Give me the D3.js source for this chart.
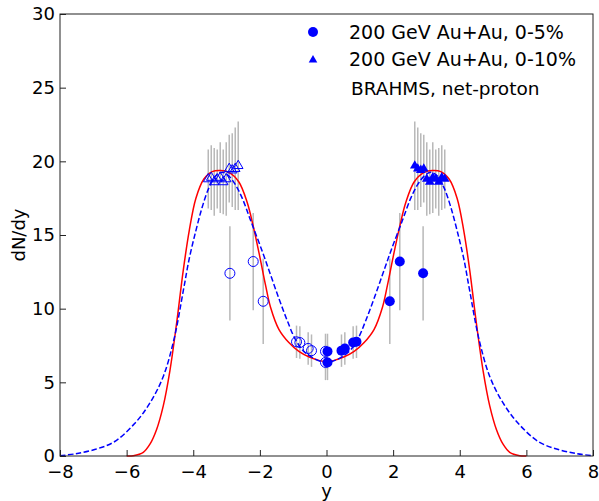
<!DOCTYPE html>
<html>
<head>
<meta charset="utf-8">
<script src="https://cdn.jsdelivr.net/npm/d3@7"></script>
<style>
  body { margin: 0; background: #fff; }
  text { font-family: "DejaVu Sans", sans-serif; fill: #000; }
</style>
</head>
<body>
<svg id="chart" width="599" height="501"></svg>
<script>
// BRAHMS net-proton, 0-5% (filled circles, y > 0) and reflected (open circles)
const circX = [0.03, 0.03, 0.45, 0.55, 0.8, 0.9, 1.9, 2.2, 2.9];
const circY = [7.1, 6.35, 7.15, 7.3, 7.7, 7.75, 10.5, 13.2, 12.4];
const circErr = [1.2, 1.2, 1.1, 1.1, 1.1, 1.1, 2.9, 3.3, 3.2];
const circReflX = [-0.03, -0.03, -0.45, -0.55, -0.8, -0.9, -1.9, -2.2, -2.9];

// 0-10% (filled triangles, y > 0) and reflected (open triangles)
const triX = [2.65, 2.74, 2.83, 2.92, 3.01, 3.10, 3.19, 3.28, 3.37, 3.46, 3.55];
const triY = [19.7, 19.5, 19.4, 19.5, 18.8, 18.6, 18.9, 18.8, 18.6, 18.9, 18.8];
const triErr = [3.0, 2.8, 2.5, 2.3, 2.5, 2.2, 2.4, 2.0, 2.3, 2.2, 2.0];
const triReflX = [-2.65, -2.74, -2.83, -2.92, -3.01, -3.10, -3.19, -3.28, -3.37, -3.46, -3.55];

// model curves
const redX = [-6, -5.8, -5.5, -5.3, -5.1, -4.9, -4.7, -4.5, -4.3, -4.12, -3.92, -3.68, -3.43, -3.18, -2.93, -2.63, -2.38, -2.2, -2.0, -1.83, -1.68, -1.43, -1.13, -0.83, -0.5, 0,
              0.5, 0.83, 1.13, 1.43, 1.68, 1.83, 2.0, 2.2, 2.38, 2.63, 2.93, 3.18, 3.43, 3.68, 3.92, 4.12, 4.3, 4.5, 4.7, 4.9, 5.1, 5.3, 5.5, 5.8, 6];
const redY = [0, 0.02, 0.25, 0.8, 1.8, 3.4, 5.8, 9.0, 12.6, 15.3, 17.5, 18.8, 19.3, 19.37, 19.25, 18.6, 17.2, 15.6, 13.5, 11.6, 10.1, 8.6, 7.7, 7.1, 6.7, 6.4,
              6.7, 7.1, 7.7, 8.6, 10.1, 11.6, 13.5, 15.6, 17.2, 18.6, 19.25, 19.37, 19.3, 18.8, 17.5, 15.3, 12.6, 9.0, 5.8, 3.4, 1.8, 0.8, 0.25, 0.02, 0];

const blueX = [-8, -7.53, -6.96, -6.38, -5.76, -5.3, -4.9, -4.57, -4.3, -4.12, -3.92, -3.73, -3.53, -3.33, -3.13, -2.93, -2.73, -2.53, -2.28, -1.93, -1.68, -1.43, -1.18, -0.93, -0.63, 0,
               0.63, 0.93, 1.18, 1.43, 1.68, 1.93, 2.28, 2.53, 2.73, 2.93, 3.13, 3.33, 3.53, 3.73, 3.92, 4.12, 4.3, 4.57, 4.9, 5.3, 5.76, 6.38, 6.96, 7.53, 8];
const blueY = [0.02, 0.15, 0.44, 0.95, 2.2, 3.6, 5.4, 8.0, 11.2, 13.4, 15.3, 16.9, 18.2, 19.0, 19.26, 19.0, 18.4, 17.5, 16.0, 13.9, 12.3, 10.7, 9.2, 7.9, 7.0, 6.35,
               7.0, 7.9, 9.2, 10.7, 12.3, 13.9, 16.0, 17.5, 18.4, 19.0, 19.26, 19.0, 18.2, 16.9, 15.3, 13.4, 11.2, 8.0, 5.4, 3.6, 2.2, 0.95, 0.44, 0.15, 0.02];

const xTicks = [-8, -6, -4, -2, 0, 2, 4, 6, 8];
const yTicks = [0, 5, 10, 15, 20, 25, 30];

const margin = {left: 60, right: 6, top: 14, bottom: 45};
const width = 599, height = 501;

let svg = d3.select("#chart");

const x = d3.scaleLinear().domain([-8, 8]).range([margin.left, width - margin.right]);
const y = d3.scaleLinear().domain([0, 30]).range([height - margin.bottom, margin.top]);

const zip = (xs, ys, es) => xs.map((v, i) => ({x: v, y: ys[i], e: es ? es[i] : 0}));

let circFilled = zip(circX, circY, circErr);
let circOpen = zip(circReflX, circY, circErr);
let triFilled = zip(triX, triY, triErr);
let triOpen = zip(triReflX, triY, triErr);

// error bars
let bars = svg.append("g");
[circFilled, circOpen, triFilled, triOpen].forEach(set => {
  bars.selectAll(null)
    .data(set)
    .enter()
    .append("line")
    .attr("x1", d => x(d.x)).attr("x2", d => x(d.x))
    .attr("y1", d => y(d.y - d.e)).attr("y2", d => y(d.y + d.e))
    .attr("stroke", "#b8b8b8")
    .attr("stroke-width", 1.5);
});

// curves
let line = d3.line().x(d => x(d.x)).y(d => y(d.y)).curve(d3.curveCatmullRom.alpha(0.5));

svg.append("path")
  .datum(zip(redX, redY))
  .attr("d", line)
  .attr("fill", "none")
  .attr("stroke", "#ff0000")
  .attr("stroke-width", 1.5);

svg.append("path")
  .datum(zip(blueX, blueY))
  .attr("d", line)
  .attr("fill", "none")
  .attr("stroke", "#0000ff")
  .attr("stroke-width", 1.5)
  .attr("stroke-dasharray", "5.5,2.5");

// markers
const tri = d3.symbol().type(d3.symbolTriangle).size(40);

svg.append("g").selectAll("circle")
  .data(circOpen).enter().append("circle")
  .attr("cx", d => x(d.x)).attr("cy", d => y(d.y)).attr("r", 5)
  .attr("fill", "none").attr("stroke", "#0000ff").attr("stroke-width", 1);

svg.append("g").selectAll("circle")
  .data(circFilled).enter().append("circle")
  .attr("cx", d => x(d.x)).attr("cy", d => y(d.y)).attr("r", 5)
  .attr("fill", "#0000ff");

svg.append("g").selectAll("path")
  .data(triOpen).enter().append("path")
  .attr("d", tri)
  .attr("transform", d => `translate(${x(d.x)},${y(d.y)})`)
  .attr("fill", "none").attr("stroke", "#0000ff").attr("stroke-width", 1);

svg.append("g").selectAll("path")
  .data(triFilled).enter().append("path")
  .attr("d", tri)
  .attr("transform", d => `translate(${x(d.x)},${y(d.y)})`)
  .attr("fill", "#0000ff");

// axes (ticks pointing inward)
let xAxis = svg.append("g")
  .attr("transform", `translate(0,${height - margin.bottom})`)
  .call(d3.axisBottom(x).tickValues(xTicks).tickSizeInner(-6).tickSizeOuter(0).tickPadding(9)
    .tickFormat(d => d < 0 ? "\u2212" + Math.abs(d) : d));

let yAxis = svg.append("g")
  .attr("transform", `translate(${margin.left},0)`)
  .call(d3.axisLeft(y).tickValues(yTicks).tickSizeInner(-6).tickSizeOuter(0).tickPadding(5));

[xAxis, yAxis].forEach(a => {
  a.selectAll("text").style("font-size", "18px").style("font-family", "DejaVu Sans");
  a.selectAll("line").attr("stroke", "#222");
  a.select(".domain").attr("stroke", "none");
});

// frame
svg.append("rect")
  .attr("x", margin.left).attr("y", margin.top)
  .attr("width", width - margin.left - margin.right)
  .attr("height", height - margin.top - margin.bottom)
  .attr("fill", "none").attr("stroke", "#222").attr("stroke-width", 1);

// axis labels
svg.append("text")
  .attr("x", x(0)).attr("y", 497)
  .attr("text-anchor", "middle")
  .style("font-size", "18px")
  .text("y");

svg.append("text")
  .attr("transform", `translate(25,${(margin.top + height - margin.bottom) / 2}) rotate(-90)`)
  .attr("text-anchor", "middle")
  .style("font-size", "18px")
  .text("dN/dy");

// legend
let legend = svg.append("g");
legend.append("circle").attr("cx", 313).attr("cy", 32).attr("r", 5).attr("fill", "#0000ff");
legend.append("path").attr("d", d3.symbol().type(d3.symbolTriangle).size(32)).attr("transform", "translate(313,60)").attr("fill", "#0000ff");
legend.append("text").attr("x", 349).attr("y", 39).style("font-size", "19px").text("200 GeV Au+Au, 0-5%");
legend.append("text").attr("x", 349).attr("y", 66).style("font-size", "19px").text("200 GeV Au+Au, 0-10%");
legend.append("text").attr("x", 351).attr("y", 95).style("font-size", "18.5px").text("BRAHMS, net-proton");
</script>
</body>
</html>
